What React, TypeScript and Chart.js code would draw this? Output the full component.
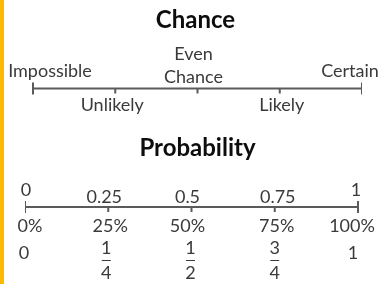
import React, { useEffect, useRef } from 'react';
import { Chart, registerables } from 'chart.js';

Chart.register(...registerables);

// ---------- data ----------
const chanceTitle = 'Chance';
const chanceValues = [0, 0.25, 0.5, 0.75, 1];
const chanceLabels = [['Impossible'], ['Unlikely'], ['Even', 'Chance'], ['Likely'], ['Certain']];

const probTitle = 'Probability';
const probValues = [0, 0.25, 0.5, 0.75, 1];
const decimalLabels = ['0', '0.25', '0.5', '0.75', '1'];
const percentLabels = ['0%', '25%', '50%', '75%', '100%'];
const fractionNumerators = ['0', '1', '1', '3', '1'];
const fractionDenominators = ['', '4', '2', '4', ''];

// ---------- layout / style ----------
const W = 380;
const H = 284;
const LINE1_Y = 88.5;
const LINE2_Y = 207;
const FONT = 'Lato, "DejaVu Sans", sans-serif';
const TEXT = '#3a3a3a';
const TITLE = '#0d0d0d';
const AXIS = '#5a5a5a';
const ACCENT = '#FFB900';

// label offsets (px) relative to tick, and baselines
const chanceDx = [17, -3, -4, 2, -12];
const chanceBase = [[77], [111], [60, 83], [111], [77]];
const decimalDx = [1, -4, -4, 3, -2];
const decimalBase = [196, 203, 203, 203, 196];
const percentDx = [5, 2, -4, 2, -6];
const PERCENT_BASE = 232;
const fracDx = [-1, -2, -1, 0, -5];

const isEnd = (v: number) => v === 0 || v === 1;

export default function App() {
  const ref = useRef<HTMLCanvasElement | null>(null);

  useEffect(() => {
    if (!ref.current) return;

    const textPlugin = {
      id: 'numberLineText',
      afterDatasetsDraw(chart: any) {
        const ctx = chart.ctx as CanvasRenderingContext2D;
        const xc = chart.scales.xc;
        const xp = chart.scales.xp;
        const mid = (xc.getPixelForValue(0.5) + xp.getPixelForValue(0.5)) / 2;
        ctx.save();
        ctx.textAlign = 'center';
        ctx.textBaseline = 'alphabetic';

        // titles
        ctx.fillStyle = TITLE;
        ctx.font = `bold 24px ${FONT}`;
        ctx.fillText(chanceTitle, mid + 1, 28);
        ctx.fillText(probTitle, mid + 3, 156);

        // chance labels
        ctx.fillStyle = TEXT;
        ctx.font = `18px ${FONT}`;
        chanceValues.forEach((v, i) => {
          const px = xc.getPixelForValue(v) + chanceDx[i];
          chanceLabels[i].forEach((line, j) => {
            ctx.fillText(line, px, chanceBase[i][j]);
          });
        });

        // probability labels
        ctx.font = `18px ${FONT}`;
        probValues.forEach((v, i) => {
          const t = xp.getPixelForValue(v);
          ctx.fillText(decimalLabels[i], t + decimalDx[i], decimalBase[i]);
          ctx.fillText(percentLabels[i], t + percentDx[i], PERCENT_BASE);
          const fx = t + fracDx[i];
          if (fractionDenominators[i]) {
            ctx.fillText(fractionNumerators[i], fx, 254);
            ctx.fillText(fractionDenominators[i], fx, 279);
            ctx.strokeStyle = TEXT;
            ctx.lineWidth = 1;
            ctx.beginPath();
            ctx.moveTo(fx - 4.5, 260.5);
            ctx.lineTo(fx + 4.5, 260.5);
            ctx.stroke();
          } else {
            ctx.fillText(fractionNumerators[i], fx, 259);
          }
        });
        ctx.restore();
      },
    };

    const tickStyle = {
      showLine: false,
      pointStyle: 'line',
      rotation: 90,
      pointBorderColor: AXIS,
      borderColor: AXIS,
      pointBorderWidth: 2,
      borderWidth: 2,
    };

    const chart = new Chart(ref.current, {
      type: 'scatter',
      data: {
        datasets: [
          {
            xAxisID: 'xc',
            data: [chanceValues[0], chanceValues[chanceValues.length - 1]].map((v) => ({ x: v, y: LINE1_Y })),
            showLine: true,
            borderColor: AXIS,
            borderWidth: 2,
            pointRadius: 0,
          },
          {
            xAxisID: 'xc',
            ...tickStyle,
            pointRadius: 6,
            data: chanceValues.filter(isEnd).map((v) => ({ x: v, y: LINE1_Y })),
          },
          {
            xAxisID: 'xc',
            ...tickStyle,
            pointRadius: 2.5,
            data: chanceValues.filter((v) => !isEnd(v)).map((v) => ({ x: v, y: LINE1_Y + 2.5 })),
          },
          {
            xAxisID: 'xp',
            data: [probValues[0], probValues[probValues.length - 1]].map((v) => ({ x: v, y: LINE2_Y })),
            showLine: true,
            borderColor: AXIS,
            borderWidth: 2,
            pointRadius: 0,
          },
          {
            xAxisID: 'xp',
            ...tickStyle,
            pointRadius: 6,
            data: probValues.filter(isEnd).map((v) => ({ x: v, y: LINE2_Y })),
          },
          {
            xAxisID: 'xp',
            ...tickStyle,
            pointRadius: 2.5,
            data: probValues.filter((v) => !isEnd(v)).map((v) => ({ x: v, y: LINE2_Y + 2.5 })),
          },
        ] as any,
      },
      options: {
        responsive: false,
        animation: false,
        events: [],
        layout: { autoPadding: false, padding: { left: 25, right: 18, top: 0, bottom: 0 } },
        plugins: { legend: { display: false }, tooltip: { enabled: false }, title: { display: false } },
        scales: {
          xc: { type: 'linear', display: false, min: -8 / 329, max: 1 },
          xp: { type: 'linear', display: false, min: 0, max: 337 / 333 },
          y: { type: 'linear', display: false, min: 0, max: H, reverse: true },
        },
      } as any,
      plugins: [textPlugin],
    });
    return () => chart.destroy();
  }, []);

  return (
    <div style={{ position: 'fixed', left: 0, top: 0, width: W, height: H, background: '#fff' }}>
      <div style={{ position: 'absolute', left: 0, top: 0, width: 4, height: H, background: ACCENT }} />
      <canvas ref={ref} width={W} height={H} style={{ position: 'absolute', left: 0, top: 0 }} />
    </div>
  );
}
